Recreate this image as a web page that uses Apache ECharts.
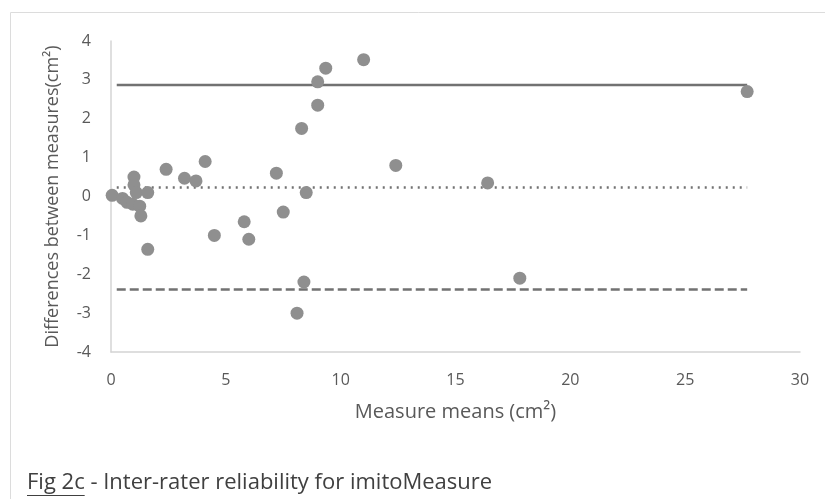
<!DOCTYPE html>
<html>
<head>
<meta charset="utf-8">
<script src="https://cdn.jsdelivr.net/npm/echarts@6/dist/echarts.min.js"></script>
<style>
  html, body { margin: 0; padding: 0; background: #fff; }
  #chart { width: 825px; height: 499px; }
</style>
</head>
<body>
<div id="chart"></div>
<script>
// Bland-Altman data: mean of the two raters vs their difference
const means = [0.05, 0.5, 0.7, 0.95, 1.0, 1.0, 1.1, 1.25, 1.3, 1.6, 1.6, 2.4, 3.2, 3.7, 4.1, 4.5, 5.8, 6.0,
  7.2, 7.5, 8.1, 8.3, 8.4, 8.5, 9.0, 9.0, 9.35, 11.0, 12.4, 16.4, 17.8, 27.7]
const diffs = [0.03, -0.05, -0.15, -0.2, 0.5, 0.3, 0.1, -0.25, -0.5, 0.1, -1.36, 0.7, 0.47, 0.4, 0.9, -1.0, -0.65, -1.1,
  0.6, -0.4, -3.0, 1.75, -2.2, 0.1, 2.35, 2.95, 3.3, 3.52, 0.8, 0.35, -2.1, 2.7]

// limits of agreement and mean difference
const lineStart = 0.25
const lineEnd = 27.7
const upperLimit = 2.87
const meanDiff = 0.23
const lowerLimit = -2.39

const xTicks = [0, 5, 10, 15, 20, 25, 30]
const yTicks = [-4, -3, -2, -1, 0, 1, 2, 3, 4]

const captionHead = 'Fig 2c'
const captionTail = ' - Inter-rater reliability for imitoMeasure'

const textFont = '"Open Sans", "Liberation Sans", sans-serif'
const captionFont = '22px ' + textFont
const lineColor = '#727272'

// width of the underlined part of the caption
const ctx = document.createElement('canvas').getContext('2d')
ctx.font = captionFont
const headWidth = ctx.measureText(captionHead).width

const chart = echarts.init(document.getElementById('chart'))

const flatLine = (y, type) => ({
  type: 'line',
  data: [[lineStart, y], [lineEnd, y]],
  symbol: 'none',
  silent: true,
  z: 1,
  lineStyle: { color: lineColor, width: 2.5, type: type }
})

const captionLeft = 27
const captionTop = 472

chart.setOption({
  animation: false,
  textStyle: { fontFamily: textFont },
  grid: { left: 111, right: 25, top: 41, bottom: 147 },
  xAxis: {
    type: 'value',
    min: xTicks[0],
    max: xTicks[xTicks.length - 1],
    interval: 5,
    name: 'Measure means (cm²)',
    nameLocation: 'middle',
    nameGap: 50,
    nameTextStyle: { color: '#595959', fontSize: 20, fontFamily: textFont },
    axisLine: { show: true, onZero: false, lineStyle: { color: '#d4d4d4', width: 1.5 } },
    axisTick: { show: false },
    splitLine: { show: false },
    axisLabel: { color: '#595959', fontSize: 16, margin: 20 }
  },
  yAxis: {
    type: 'value',
    min: yTicks[0],
    max: yTicks[yTicks.length - 1],
    interval: 1,
    name: 'Differences between measures(cm²)',
    nameLocation: 'middle',
    nameGap: 49,
    nameTextStyle: { color: '#595959', fontSize: 18, fontFamily: textFont },
    axisLine: { show: true, lineStyle: { color: '#d4d4d4', width: 1.5 } },
    axisTick: { show: false },
    splitLine: { show: false },
    axisLabel: { color: '#595959', fontSize: 16, margin: 20 }
  },
  series: [
    flatLine(upperLimit, 'solid'),
    flatLine(meanDiff, [2, 5]),
    flatLine(lowerLimit, [9, 4]),
    {
      type: 'scatter',
      data: means.map((m, i) => [m, diffs[i]]),
      symbol: 'circle',
      symbolSize: 13,
      z: 3,
      itemStyle: { color: '#8f8f8f', opacity: 1 }
    }
  ],
  graphic: [
    {
      type: 'rect',
      shape: { x: 10.5, y: 12.5, width: 830, height: 500 },
      style: { fill: 'none', stroke: '#dcdcdc', lineWidth: 1 },
      silent: true
    },
    {
      type: 'text',
      x: captionLeft,
      y: captionTop,
      style: { text: captionHead, fill: '#404040', font: captionFont }
    },
    {
      type: 'line',
      shape: { x1: captionLeft, y1: captionTop + 23.5, x2: captionLeft + headWidth, y2: captionTop + 23.5 },
      style: { stroke: '#404040', lineWidth: 1 }
    },
    {
      type: 'text',
      x: captionLeft + headWidth,
      y: captionTop,
      style: { text: captionTail, fill: '#404040', font: captionFont }
    }
  ]
})
</script>
</body>
</html>
